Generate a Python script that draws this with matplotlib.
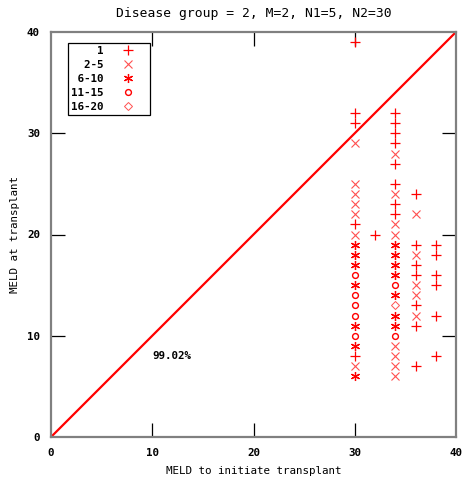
import matplotlib
matplotlib.use("Agg")
import matplotlib.pyplot as plt

# points per class (x = MELD to initiate, y = MELD at transplant)
x_1 = [30, 30, 30, 30, 30, 32, 34, 34, 34, 34, 34, 34, 34, 34,
       36, 36, 36, 36, 36, 36, 36, 38, 38, 38, 38, 38, 38]
y_1 = [39, 32, 31, 21, 8, 20, 32, 31, 30, 29, 27, 25, 23, 22,
       24, 19, 17, 16, 13, 11, 7, 19, 18, 16, 15, 12, 8]

x_2_5 = [30, 30, 30, 30, 30, 30, 30, 34, 34, 34, 34, 34, 34, 34, 34,
         36, 36, 36, 36, 36]
y_2_5 = [29, 25, 24, 23, 22, 20, 7, 28, 24, 21, 20, 9, 8, 7, 6,
         22, 18, 15, 14, 12]

x_6_10 = [30, 30, 30, 30, 30, 30, 30, 34, 34, 34, 34, 34, 34, 34]
y_6_10 = [19, 18, 17, 15, 11, 9, 6, 19, 18, 17, 16, 14, 12, 11]

x_11_15 = [30, 30, 30, 30, 30, 34, 34]
y_11_15 = [16, 14, 13, 12, 10, 15, 10]

x_16_20 = [34]
y_16_20 = [13]

diag = [0, 40]
ticks = [0, 10, 20, 30, 40]
pct_text = "99.02%"

plt.rcParams['font.family'] = "DejaVu Sans Mono"
plt.rcParams['font.weight'] = 'bold'
plt.rcParams['font.size'] = 7.8

fig = plt.figure(figsize=(4.65, 4.80), dpi=100)
ax = fig.add_axes([51 / 465, 43 / 480, 405 / 465, 405 / 480])

red = "#ff0000"
ax.plot(diag, diag, color=red, lw=1.6, zorder=2)

ax.plot(x_1, y_1, ls="none", marker="+", ms=6.5, mew=0.9, color=red, label="    1")
ax.plot(x_2_5, y_2_5, ls="none", marker="x", ms=5.5, mew=0.8, color="#ff5050", label="  2-5")
ax.plot(x_6_10, y_6_10, ls="none", marker=(6, 2, 0), ms=6.5, mew=0.9, color=red, label=" 6-10")
ax.plot(x_11_15, y_11_15, ls="none", marker="o", ms=4.2, mew=1.0, mfc="none", color=red, label="11-15")
ax.plot(x_16_20, y_16_20, ls="none", marker="D", ms=4, mew=0.7, mfc="none", color="#ff5050", label="16-20")

ax.text(10, 8, pct_text, ha="left", va="center")

ax.set_xlim(0, 40)
ax.set_ylim(0, 40)
ax.set_xticks(ticks)
ax.set_yticks(ticks)
ax.tick_params(direction="in", length=10, width=0.9, color="black",
               top=True, right=True, pad=8)
# gnuplot hides the tick marks that sit on the frame corners
for axis in (ax.xaxis, ax.yaxis):
    for t in (axis.get_major_ticks()[0], axis.get_major_ticks()[-1]):
        t.tick1line.set_visible(False)
        t.tick2line.set_visible(False)
for s in ax.spines.values():
    s.set_color("#808080")
    s.set_linewidth(1.6)

ax.set_title("Disease group = 2, M=2, N1=5, N2=30", pad=11)
ax.set_xlabel("MELD to initiate transplant", labelpad=6)
ax.set_ylabel("MELD at transplant", labelpad=5)

leg = ax.legend(loc="upper left", bbox_to_anchor=(0.042, 0.973), markerfirst=False,
                frameon=True, fancybox=False, edgecolor="black", framealpha=1,
                handlelength=3.6, handletextpad=0.4, labelspacing=0.36,
                borderpad=0.3, borderaxespad=0)
leg.get_frame().set_linewidth(0.9)

fig.savefig("out.png", dpi=100)
